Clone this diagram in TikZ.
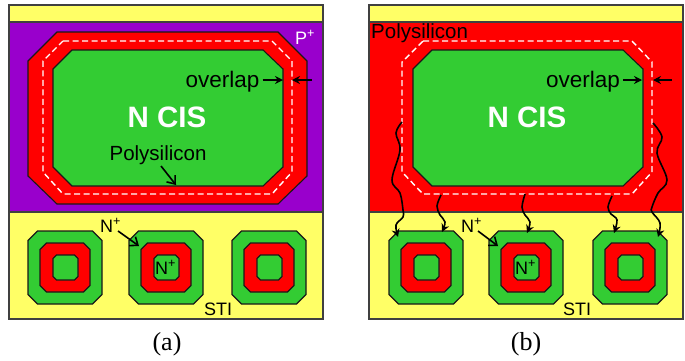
\documentclass[tikz,border=0pt]{standalone}
\usepackage{fontspec}
\setmainfont{Liberation Sans}
\newfontfamily\capfont{Liberation Serif}
\usetikzlibrary{arrows.meta}
\definecolor{cpurple}{HTML}{9900CC}
\definecolor{cred}{HTML}{FF0000}
\definecolor{cgreen}{HTML}{33CC33}
\definecolor{cyellow}{HTML}{FFFF66}
\tikzset{
  frameline/.style={draw=black!75,line width=1.1pt},
  outlined/.style={draw=black!90,line width=1.1pt,line join=miter},
  dashw/.style={draw=white,line width=1.4pt,dash pattern=on 6pt off 3.5pt},
  lbl/.style={inner sep=0pt,text=black,anchor=base},
  lbll/.style={inner sep=0pt,text=black,anchor=base west},
  pointer/.style={draw=black,line width=1.7pt,-{Stealth[length=8pt,width=8pt]}},
  openpointer/.style={draw=black,line width=1.6pt,-{Straight Barb[length=7pt,width=11pt]}},
  wavy/.style={draw=black,line width=1.6pt,-{Stealth[length=8pt,width=8pt]}},
}
\newcommand{\octa}[6]{% style, x0,y0,x1,y1,chamfer
  \path[#1] ({#2+#6},#3) -- ({#4-#6},#3) -- (#4,{#3+#6}) -- (#4,{#5-#6}) -- ({#4-#6},#5) -- ({#2+#6},#5) -- (#2,{#5-#6}) -- (#2,{#3+#6}) -- cycle;}
\newcommand{\mycell}[1]{%
  \begin{scope}[xshift=#1pt]
    \octa{outlined,fill=cgreen}{28}{231}{102}{304}{9.5}
    \octa{outlined,fill=cred}{40}{243}{90}{292}{6.5}
    \octa{outlined,fill=cgreen}{53}{255}{78}{280}{3.5}
  \end{scope}}
\newcommand{\mypanel}[2]{% shift, fill
  \begin{scope}[xshift=#1pt]
    \path[frameline,fill=cyellow] (9,5) rectangle (323,22);
    \path[frameline,fill=#2] (9,22) rectangle (323,212);
    \path[frameline,fill=cyellow] (9,212) rectangle (323,319);
  \end{scope}}
\begin{document}
\begin{tikzpicture}[x=1pt,y=-1pt]
\useasboundingbox[fill=white] (0,0) rectangle (685,360);
% panel a
\mypanel{0}{cpurple}
\path[outlined,fill=cred] (57,32) -- (278,32) -- (307,61) -- (307,176) -- (278,204) -- (57,204) -- (28,176) -- (28,61) -- cycle;
\path[outlined,fill=cgreen] (72,50) -- (263,50) -- (283,69) -- (283,167) -- (263,186) -- (72,186) -- (53,167) -- (53,69) -- cycle;
\path[dashw] (63,41) -- (272,41) -- (292,61) -- (292,172) -- (272,194) -- (63,194) -- (43,172) -- (43,61) -- cycle;
\mycell{0}\mycell{101}\mycell{204}
% panel b
\mypanel{360}{cred}
\path[outlined,fill=cgreen] (432,50) -- (623,50) -- (643,69) -- (643,167) -- (623,186) -- (432,186) -- (413,167) -- (413,69) -- cycle;
\path[dashw] (423,41) -- (632,41) -- (652,62) -- (652,172) -- (632,194) -- (423,194) -- (402,172) -- (402,62) -- cycle;
\mycell{361}\mycell{461}\mycell{565}
% labels a
\node[lbl,font=\bfseries\fontsize{29.5}{30}\selectfont,text=white] (ncisa) at (167,127.5) {N CIS};
\node[lbl,font=\fontsize{22.5}{24}\selectfont] (ova) at (222.5,87) {overlap};
\node[lbl,font=\fontsize{20.5}{22}\selectfont] (polya) at (158,160) {Polysilicon};
\node[lbll,font=\fontsize{18}{20}\selectfont,text=white] (ppa) at (295,44) {P\textsuperscript{+}};
\node[lbll,font=\fontsize{18}{20}\selectfont] (npa) at (100,232) {N\textsuperscript{+}};
\node[lbll,font=\fontsize{18}{20}\selectfont] (nia) at (155,274) {N\textsuperscript{+}};
\node[lbl,font=\fontsize{18}{20}\selectfont] (stia) at (218,315) {STI};
\node[lbl,font=\capfont\fontsize{26}{28}\selectfont] (capa) at (167,350) {(a)};
% labels b
\node[lbl,font=\bfseries\fontsize{29.5}{30}\selectfont,text=white] (ncisb) at (527,127.5) {N CIS};
\node[lbl,font=\fontsize{22.5}{24}\selectfont] (ovb) at (583,87) {overlap};
\node[lbll,font=\fontsize{20.5}{22}\selectfont] (polyb) at (371,38) {Polysilicon};
\node[lbll,font=\fontsize{18}{20}\selectfont] (npb) at (461,232) {N\textsuperscript{+}};
\node[lbll,font=\fontsize{18}{20}\selectfont] (nib) at (515,274) {N\textsuperscript{+}};
\node[lbl,font=\fontsize{18}{20}\selectfont] (stib) at (577,315) {STI};
\node[lbl,font=\capfont\fontsize{26}{28}\selectfont] (capb) at (526,350) {(b)};
% arrow ends
\coordinate (oa1) at (283,80); \coordinate (oa2s) at (312,80); \coordinate (oa2) at (292,80);
\coordinate (pa) at (176,185); \coordinate (na) at (139,246);
\coordinate (ob1) at (642,80); \coordinate (ob2s) at (672,80); \coordinate (ob2) at (653,80);
\coordinate (nb) at (498,246);
\draw[pointer] (ova.east |- oa1) ++(3,0) -- (oa1);
\draw[pointer] (oa2s) -- (oa2);
\draw[openpointer] (161,166) -- (pa);
\draw[openpointer] (118,231) -- (na);
\draw[pointer] (ovb.east |- ob1) ++(3,0) -- (ob1);
\draw[pointer] (ob2s) -- (ob2);
\draw[openpointer] (478,231) -- (nb);
% wavy connectors
\draw[wavy] plot[smooth,tension=0.6] coordinates {(402,122) (396,133) (400,150) (392,180) (400,193) (403,210) (403,217) (396,225) (398,237)};
\draw[wavy] plot[smooth,tension=0.6] coordinates {(441,195) (437,206) (440,215) (445,222) (442,232)};
\draw[wavy] plot[smooth,tension=0.6] coordinates {(525,194) (522,207) (525,215) (530,222) (527,233)};
\draw[wavy] plot[smooth,tension=0.6] coordinates {(612,196) (608,207) (611,214) (617,220) (614,233)};
\draw[wavy] plot[smooth,tension=0.6] coordinates {(653,123) (662,137) (657,153) (667,180) (658,193) (652,207) (652,212) (660,223) (658,237)};
\end{tikzpicture}
\end{document}
